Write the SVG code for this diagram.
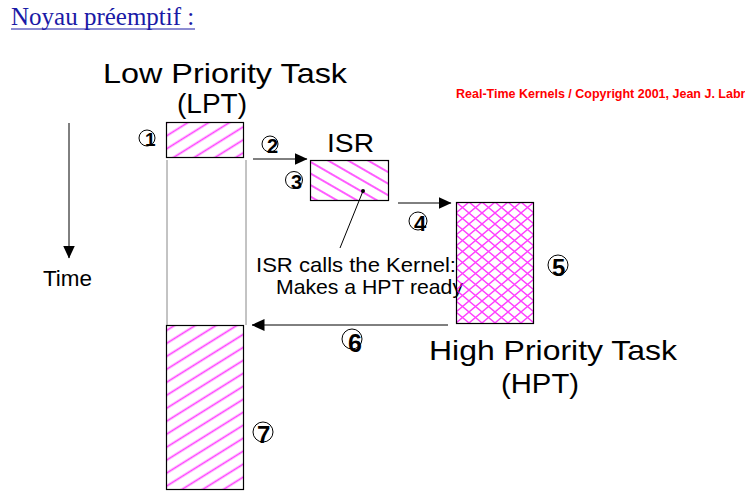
<svg xmlns="http://www.w3.org/2000/svg" width="745" height="498" viewBox="0 0 745 498">
<defs>
<pattern id="hatchL" patternUnits="userSpaceOnUse" width="11" height="11" patternTransform="rotate(-32)">
<line x1="0" y1="5.5" x2="11" y2="5.5" stroke="#f0f" stroke-width="1.7" stroke-opacity="0.75"/>
</pattern>
<pattern id="hatchR" patternUnits="userSpaceOnUse" width="10" height="10" patternTransform="rotate(30)">
<line x1="0" y1="5" x2="10" y2="5" stroke="#f0f" stroke-width="1.7" stroke-opacity="0.75"/>
</pattern>
<pattern id="cross" patternUnits="userSpaceOnUse" width="13" height="11" x="456" y="202">
<path d="M0,0 L13,11 M13,0 L0,11" stroke="#f0f" stroke-width="1.4" stroke-opacity="0.75" fill="none"/>
</pattern>
<marker id="arr" markerWidth="13" markerHeight="12" refX="12.5" refY="6" orient="auto" markerUnits="userSpaceOnUse">
<path d="M0,0 L13,6 L0,12 Z" fill="#000"/>
</marker>
</defs>
<style>
.lbl{font-family:"Liberation Sans",Arial,sans-serif;fill:#000}
.num{font-family:"Liberation Sans",Arial,sans-serif;font-weight:bold;fill:#000}
.circ{fill:none;stroke:#000;stroke-width:1}
.box{stroke:#000;stroke-width:1.2}
.conn{stroke:#000;stroke-width:1;fill:none}
</style>
<rect width="745" height="498" fill="#fff"/>
<text x="11" y="25" font-family="Liberation Serif,Times New Roman,serif" font-size="25" fill="#1a1aa6">Noyau préemptif :</text>
<line x1="11" y1="29" x2="195" y2="29" stroke="#1a1aa6" stroke-width="1"/>
<text x="456" y="98" font-family="Liberation Sans,Arial,sans-serif" font-size="12.5" font-weight="bold" fill="#f00">Real-Time Kernels / Copyright 2001, Jean J. Labrosse</text>

<g id="time">
<line x1="69" y1="123" x2="69" y2="258" class="conn" marker-end="url(#arr)"/>
<text x="43" y="286" class="lbl" font-size="22" textLength="49" lengthAdjust="spacingAndGlyphs">Time</text>
</g>

<g id="lpt">
<text x="103" y="83" class="lbl" font-size="28" textLength="244" lengthAdjust="spacingAndGlyphs">Low Priority Task</text>
<text x="177" y="113" class="lbl" font-size="28" textLength="70" lengthAdjust="spacingAndGlyphs">(LPT)</text>
<rect x="166.5" y="122.5" width="77" height="35" fill="url(#hatchL)" class="box"/>
<line x1="167" y1="160" x2="167" y2="325" stroke="#888" stroke-width="1"/>
<line x1="246" y1="160" x2="246" y2="325" stroke="#888" stroke-width="1"/>
<rect x="166.5" y="325.5" width="77" height="164" fill="url(#hatchL)" class="box"/>
</g>

<g id="isr">
<text x="327" y="152" class="lbl" font-size="26" textLength="47" lengthAdjust="spacingAndGlyphs">ISR</text>
<rect x="310.5" y="160.5" width="78" height="40" fill="url(#hatchR)" class="box"/>
<circle cx="363" cy="191" r="2" fill="#000"/>
<line x1="363" y1="191" x2="340" y2="248" class="conn"/>
<text x="256" y="272" class="lbl" font-size="21" textLength="200" lengthAdjust="spacingAndGlyphs">ISR calls the Kernel:</text>
<text x="276" y="294" class="lbl" font-size="21" textLength="187" lengthAdjust="spacingAndGlyphs">Makes a HPT ready</text>
</g>

<g id="hpt">
<rect x="456.5" y="202.5" width="77" height="121" fill="url(#cross)" class="box"/>
<text x="429" y="360" class="lbl" font-size="28" textLength="248" lengthAdjust="spacingAndGlyphs">High Priority Task</text>
<text x="501" y="393" class="lbl" font-size="28" textLength="78" lengthAdjust="spacingAndGlyphs">(HPT)</text>
</g>

<g id="connectors">
<line x1="253" y1="159" x2="307" y2="159" class="conn" marker-end="url(#arr)"/>
<line x1="398" y1="203" x2="451" y2="203" class="conn" marker-end="url(#arr)"/>
<line x1="448" y1="325" x2="252" y2="325" class="conn" marker-end="url(#arr)"/>
</g>

<g id="numbers">
<circle cx="147" cy="138" r="8" class="circ"/><text x="145" y="146" class="num" font-size="19">1</text>
<circle cx="270" cy="144" r="8" class="circ"/><text x="267" y="153" class="num" font-size="20">2</text>
<circle cx="294" cy="180" r="8.5" class="circ"/><text x="291" y="189" class="num" font-size="20">3</text>
<circle cx="418" cy="221" r="9" class="circ"/><text x="414" y="231" class="num" font-size="22">4</text>
<circle cx="558" cy="265" r="10" class="circ"/><text x="552" y="276" class="num" font-size="24">5</text>
<circle cx="352" cy="339" r="10" class="circ"/><text x="348" y="352" class="num" font-size="25">6</text>
<circle cx="263" cy="432" r="10" class="circ"/><text x="257" y="443" class="num" font-size="24">7</text>
</g>
</svg>
